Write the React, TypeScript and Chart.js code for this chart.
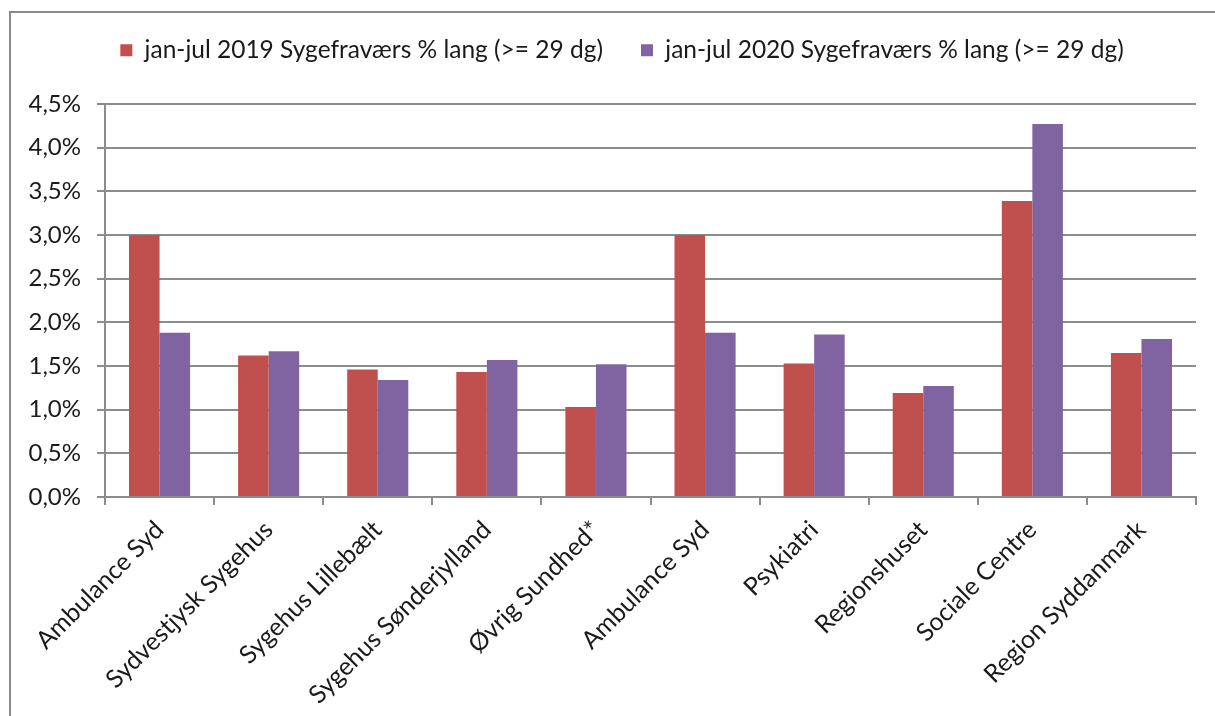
import React, { useEffect, useRef } from "react";
import { Chart, registerables } from "chart.js";

Chart.register(...registerables);

const categories = [
  "Ambulance Syd",
  "Sydvestjysk Sygehus",
  "Sygehus Lillebælt",
  "Sygehus Sønderjylland",
  "Øvrig Sundhed*",
  "Ambulance Syd",
  "Psykiatri",
  "Regionshuset",
  "Sociale Centre",
  "Region Syddanmark",
];
const series2019 = [3.0, 1.62, 1.46, 1.43, 1.03, 3.0, 1.53, 1.19, 3.39, 1.65];
const series2020 = [1.88, 1.67, 1.34, 1.57, 1.52, 1.88, 1.86, 1.27, 4.27, 1.81];
const seriesLabels = [
  "jan-jul 2019 Sygefraværs % lang (>= 29 dg)",
  "jan-jul 2020 Sygefraværs % lang (>= 29 dg)",
];
const yMin = 0;
const yMax = 4.5;
const yStep = 0.5;

const FONT = "Lato, 'Open Sans', sans-serif";
const GRID = "#8c8c8c";
const TEXT = "#1a1a1a";

const framePlugin = {
  id: "frame",
  beforeDraw(chart: any) {
    const ctx = chart.ctx;
    ctx.save();
    ctx.fillStyle = "#ffffff";
    ctx.fillRect(0, 0, chart.width, chart.height);
    ctx.strokeStyle = "#8a8a8a";
    ctx.lineWidth = 2;
    ctx.beginPath();
    ctx.moveTo(10, chart.height);
    ctx.lineTo(10, 12);
    ctx.lineTo(chart.width, 12);
    ctx.stroke();
    ctx.restore();
  },
};

const legendPlacePlugin = {
  id: "legendPlace",
  beforeInit(chart: any) {
    const legend = chart.legend;
    if (!legend) return;
    const origFit = legend.fit;
    legend.fit = function () {
      origFit.call(this);
      this.height = 104;
    };
  },
  afterLayout(chart: any) {
    const legend = chart.legend;
    if (!legend) return;
    legend.left += 24;
    legend.right += 24;
  },
};

export default function App() {
  const ref = useRef<HTMLCanvasElement | null>(null);
  useEffect(() => {
    if (!ref.current) return;
    const chart = new Chart(ref.current, {
      type: "bar",
      data: {
        labels: categories,
        datasets: [
          {
            label: seriesLabels[0],
            data: series2019,
            backgroundColor: "#C0504D",
            borderWidth: 0,
          },
          {
            label: seriesLabels[1],
            data: series2020,
            backgroundColor: "#8064A2",
            borderWidth: 0,
          },
        ],
      },
      options: {
        responsive: false,
        animation: false,
        devicePixelRatio: 1,
        layout: { padding: { left: 0, right: 19, top: 0, bottom: 0 } },
        datasets: {
          bar: { categoryPercentage: 0.56, barPercentage: 1.0 },
        },
        plugins: {
          tooltip: { enabled: false },
          legend: {
            position: "top",
            labels: {
              boxWidth: 12,
              boxHeight: 12,
              padding: 38,
              color: TEXT,
              font: { family: FONT, size: 24.5 },
            },
          },
        },
        scales: {
          x: {
            offset: true,
            grid: {
              offset: true,
              drawOnChartArea: false,
              drawTicks: true,
              tickLength: 8,
              color: GRID,
              lineWidth: 2,
            },
            border: { display: true, color: GRID, width: 2 },
            ticks: {
              minRotation: 45,
              maxRotation: 45,
              autoSkip: false,
              padding: 10,
              color: TEXT,
              font: { family: FONT, size: 25 },
            },
            afterFit(scale: any) {
              scale.height = 716 - 497;
            },
          },
          y: {
            min: yMin,
            max: yMax,
            grid: {
              drawTicks: true,
              tickLength: 8,
              color: GRID,
              lineWidth: 2,
            },
            border: { display: true, color: GRID, width: 2 },
            ticks: {
              stepSize: yStep,
              padding: 16,
              color: TEXT,
              font: { family: FONT, size: 24 },
              callback: (v: any) => Number(v).toFixed(1).replace(".", ",") + "%",
            },
            afterFit(scale: any) {
              scale.width = 105;
            },
          },
        },
      },
      plugins: [framePlugin, legendPlacePlugin],
    });
    return () => chart.destroy();
  }, []);

  return (
    <div style={{ position: "fixed", left: 0, top: 0, width: 1215, height: 716, overflow: "hidden", background: "#fff" }}>
      <canvas ref={ref} width={1215} height={716} style={{ display: "block", width: 1215, height: 716 }} />
    </div>
  );
}
